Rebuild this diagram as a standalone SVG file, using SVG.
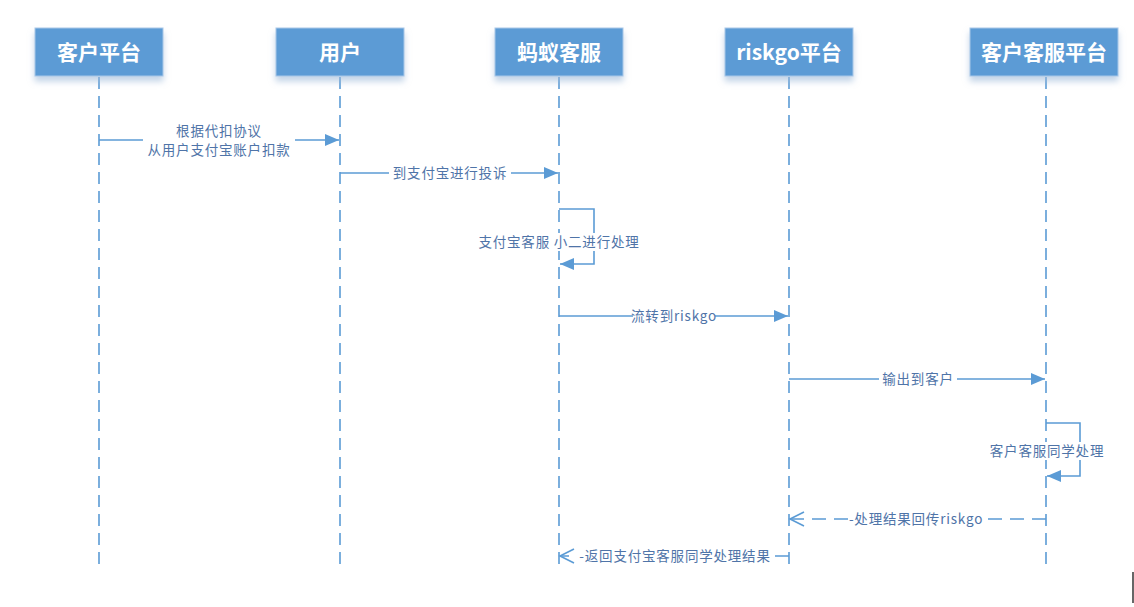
<svg xmlns="http://www.w3.org/2000/svg" width="1134" height="607" viewBox="0 0 1134 607">
<style>
.box{fill:#5B9BD5;stroke:#a9c7e8;stroke-width:1}
.ht{font-family:"Noto Sans CJK SC","Liberation Sans",sans-serif;font-weight:bold;font-size:21px;fill:#fff;text-anchor:middle}
.life{stroke:#5B9BD5;stroke-width:1.6;stroke-dasharray:12 7;fill:none}
.msg{stroke:#5B9BD5;stroke-width:1.6;fill:none}
.dash{stroke:#5B9BD5;stroke-width:1.6;fill:none;stroke-dasharray:14 8}
.lbl{font-family:"Noto Sans CJK SC","Liberation Sans",sans-serif;font-size:13.5px;fill:#4f74a8;text-anchor:middle;letter-spacing:0.8px}
.bg{fill:#fff}
</style>
<defs>
<filter id="sh" x="-20%" y="-20%" width="140%" height="160%">
<feDropShadow dx="0" dy="5" stdDeviation="3" flood-color="#9bb7d8" flood-opacity="0.6"/>
</filter>
<marker id="fa" markerWidth="16" markerHeight="14" refX="15" refY="7" orient="auto" markerUnits="userSpaceOnUse">
<path d="M1,1 L15,7 L1,13 Z" fill="#5B9BD5"/>
</marker>
<marker id="oa" markerWidth="18" markerHeight="18" refX="16" refY="9" orient="auto" markerUnits="userSpaceOnUse">
<path d="M2,2 L16,9 L2,16" fill="none" stroke="#5B9BD5" stroke-width="1.6"/>
</marker>
</defs>

<g id="lifelines">
<line class="life" x1="99" y1="77" x2="99" y2="567"/>
<line class="life" x1="340" y1="77" x2="340" y2="567"/>
<line class="life" x1="559" y1="77" x2="559" y2="567"/>
<line class="life" x1="789" y1="77" x2="789" y2="567"/>
<line class="life" x1="1046" y1="77" x2="1046" y2="567"/>
</g>

<g id="n1"><rect class="box" x="35" y="28" width="128" height="48" filter="url(#sh)"/><text class="ht" x="99" y="60">客户平台</text></g>
<g id="n2"><rect class="box" x="276" y="28" width="128" height="48" filter="url(#sh)"/><text class="ht" x="340" y="60">用户</text></g>
<g id="n3"><rect class="box" x="495" y="28" width="128" height="48" filter="url(#sh)"/><text class="ht" x="559" y="60">蚂蚁客服</text></g>
<g id="n4"><rect class="box" x="725" y="28" width="128" height="48" filter="url(#sh)"/><text class="ht" x="789" y="60">riskgo平台</text></g>
<g id="n5"><rect class="box" x="970" y="28" width="148" height="48" filter="url(#sh)"/><text class="ht" x="1044" y="60">客户客服平台</text></g>

<g id="connectors">
<line class="msg" x1="99" y1="140" x2="339" y2="140" marker-end="url(#fa)"/>
<rect class="bg" x="143" y="122" width="152" height="38"/>
<text class="lbl" x="219" y="136">根据代扣协议</text>
<text class="lbl" x="219" y="155">从用户支付宝账户扣款</text>

<line class="msg" x1="340" y1="173" x2="558" y2="173" marker-end="url(#fa)"/>
<rect class="bg" x="389" y="164" width="122" height="18"/>
<text class="lbl" x="450" y="178">到支付宝进行投诉</text>

<polyline class="msg" points="559,209 594,209 594,264 560,264" marker-end="url(#fa)"/>
<rect class="bg" x="477" y="233" width="164" height="18"/>
<text class="lbl" x="559" y="247">支付宝客服 小二进行处理</text>

<line class="msg" x1="559" y1="316" x2="788" y2="316" marker-end="url(#fa)"/>
<rect class="bg" x="633" y="307" width="82" height="18"/>
<text class="lbl" x="674" y="321">流转到riskgo</text>

<line class="msg" x1="789" y1="379" x2="1045" y2="379" marker-end="url(#fa)"/>
<rect class="bg" x="879" y="370" width="78" height="18"/>
<text class="lbl" x="918" y="384">输出到客户</text>

<polyline class="msg" points="1046,423 1080,423 1080,476 1047,476" marker-end="url(#fa)"/>
<rect class="bg" x="985" y="442" width="124" height="18"/>
<text class="lbl" x="1047" y="456">客户客服同学处理</text>

<line class="dash" x1="1046" y1="519" x2="790" y2="519" marker-end="url(#oa)"/>
<rect class="bg" x="850" y="510" width="134" height="18"/>
<text class="lbl" x="916" y="524">-处理结果回传riskgo</text>

<line class="dash" x1="789" y1="556" x2="560" y2="556" marker-end="url(#oa)"/>
<rect class="bg" x="576" y="547" width="198" height="18"/>
<text class="lbl" x="675" y="561">-返回支付宝客服同学处理结果</text>
</g>
<line x1="1133" y1="572" x2="1133" y2="603" stroke="#000" stroke-width="1.2"/>
</svg>
